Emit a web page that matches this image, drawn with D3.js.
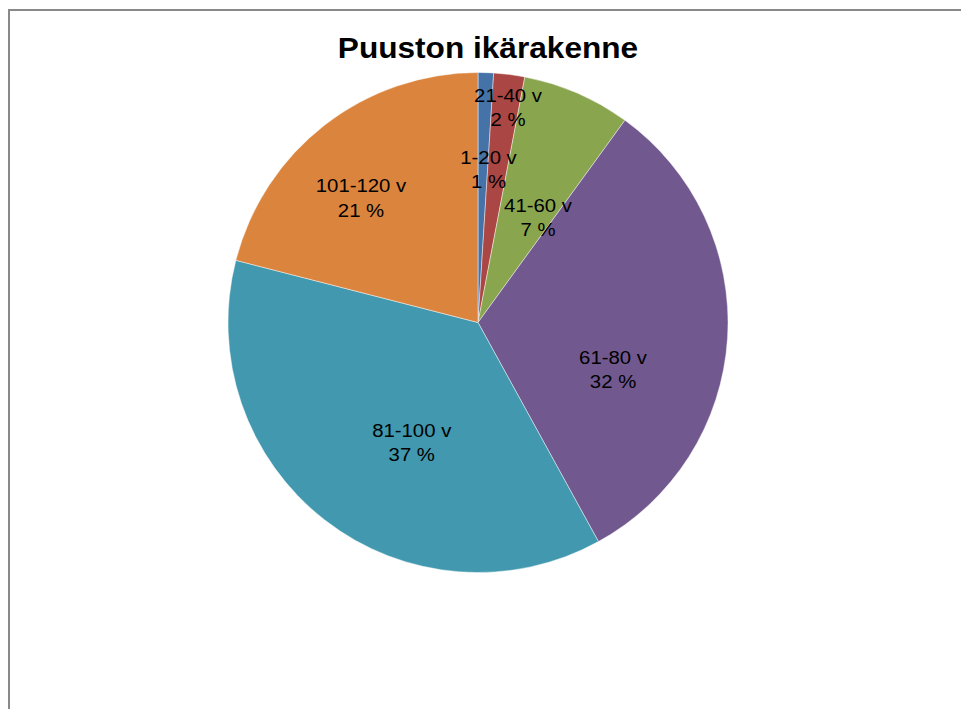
<!DOCTYPE html>
<html>
<head>
<meta charset="utf-8">
<script src="https://cdn.jsdelivr.net/npm/d3@7"></script>
<style>
  html, body { margin: 0; padding: 0; background: #fff; }
  svg { display: block; }
  text { font-family: "Liberation Sans", Arial, sans-serif; fill: #000; }
</style>
</head>
<body>
<script>
// Age classes of the stand and their shares (%)
const categories = ["1-20 v", "21-40 v", "41-60 v", "61-80 v", "81-100 v", "101-120 v"];
const shares = [1, 2, 7, 32, 37, 21];
const colors = ["#4572A7", "#AA4643", "#89A54E", "#71588F", "#4198AF", "#DB843D"];
const title = "Puuston ikärakenne";

// Where each data label sits: angle (deg, clockwise from 12 o'clock) and fraction of radius
const labelSpots = [[4.1, 0.588], [8.2, 0.842], [31.4, 0.461], [111.6, 0.581], [207.6, 0.572], [315.2, 0.664]];

const W = 961, H = 709;
const cx = 478, cy = 322.5, R = 250;

const svg = d3.select("body").append("svg")
  .attr("width", W).attr("height", H);

// chart area frame (continues past the window on the right and bottom)
svg.append("rect")
  .attr("x", 9).attr("y", 10)
  .attr("width", 1000).attr("height", 800)
  .attr("fill", "#fff")
  .attr("stroke", "#898989")
  .attr("stroke-width", 2);

// title
svg.append("g")
  .attr("transform", `translate(488,57.5) scale(1.09,1)`)
  .append("text")
  .attr("text-anchor", "middle")
  .attr("font-size", 29)
  .attr("font-weight", "bold")
  .text(title);

const data = categories.map((c, i) => ({ cat: c, value: shares[i], color: colors[i], spot: labelSpots[i] }));

const pie = d3.pie().value(d => d.value).sort(null);
const arc = d3.arc().innerRadius(0).outerRadius(R);

const g = svg.append("g").attr("transform", `translate(${cx},${cy})`);

g.selectAll("path.slice")
  .data(pie(data))
  .join("path")
  .attr("class", "slice")
  .attr("d", arc)
  .attr("fill", d => d.data.color)
  .attr("stroke", "#ffffff")
  .attr("stroke-opacity", 0.6)
  .attr("stroke-width", 0.75);

// data labels: category name and percentage on two lines
const labels = g.selectAll("g.lab")
  .data(pie(data))
  .join("g")
  .attr("class", "lab")
  .attr("transform", d => {
    const a = d.data.spot[0] * Math.PI / 180;
    const r = d.data.spot[1] * R;
    return `translate(${r * Math.sin(a)},${-r * Math.cos(a)}) scale(1.1,1)`;
  });

labels.append("text")
  .attr("text-anchor", "middle")
  .attr("font-size", 18.5)
  .attr("y", -12.25)
  .text(d => d.data.cat);

labels.append("text")
  .attr("text-anchor", "middle")
  .attr("font-size", 18.5)
  .attr("y", 12.25)
  .text(d => `${d.data.value} %`);
</script>
</body>
</html>
